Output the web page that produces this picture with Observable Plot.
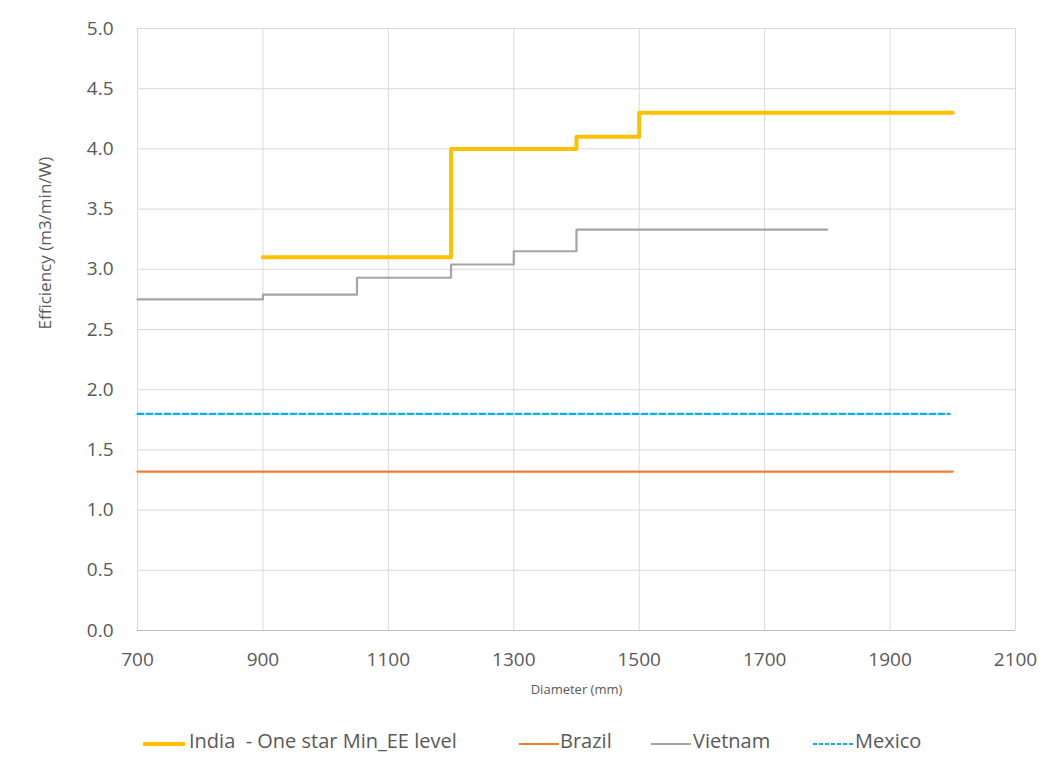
<!DOCTYPE html>
<html>
<head>
<meta charset="utf-8">
<script src="https://cdn.jsdelivr.net/npm/d3@7"></script>
<script src="https://cdn.jsdelivr.net/npm/@observablehq/plot@0.6"></script>
<style>
  html, body { margin: 0; padding: 0; background: #fff; }
  #chart { width: 1046px; position: relative; font-family: "Open Sans", "Liberation Sans", sans-serif; }
  #legend { position: relative; height: 62px; color: #595959; font-size: 20px; }
  #legend .sw { position: absolute; top: 35px; }
  #legend .lbl { position: absolute; top: 24px; line-height: 24px; white-space: pre; }
</style>
</head>
<body>
<div id="chart"></div>
<script>
// Data
const indiaDiameter = [900, 1200, 1400, 1500, 2000];
const indiaEff = [3.1, 4.0, 4.1, 4.3, 4.3];
const vietnamDiameter = [700, 900, 1050, 1200, 1300, 1400, 1800];
const vietnamEff = [2.75, 2.79, 2.93, 3.04, 3.15, 3.33, 3.33];
const brazilDiameter = [700, 2000];
const brazilEff = [1.32, 1.32];
const mexicoDiameter = [700, 1995];
const mexicoEff = [1.8, 1.8];
const xTicks = [700, 900, 1100, 1300, 1500, 1700, 1900, 2100];
const yTicks = [0, 0.5, 1, 1.5, 2, 2.5, 3, 3.5, 4, 4.5, 5];

const seriesNames = ["India  - One star Min_EE level", "Brazil", "Vietnam", "Mexico"];
const colors = ["#FFC000", "#ED7D31", "#A5A5A5", "#00B0F0"];
const widths = [4, 2.2, 2.2, 2.2];
const dashes = [null, null, null, "6,3"];

const toRows = (xs, ys) => xs.map((x, i) => ({x, y: ys[i]}));
const india = toRows(indiaDiameter, indiaEff);
const vietnam = toRows(vietnamDiameter, vietnamEff);
const brazil = toRows(brazilDiameter, brazilEff);
const mexico = toRows(mexicoDiameter, mexicoEff);

const plot = Plot.plot({
  width: 1046,
  height: 705,
  marginLeft: 137,
  marginRight: 31,
  marginTop: 28,
  marginBottom: 75,
  style: { fontFamily: "'Open Sans', 'Liberation Sans', sans-serif", background: "#fff" },
  x: { domain: [700, 2100] },
  y: { domain: [0, 5] },
  marks: [
    Plot.gridX(xTicks, { stroke: "#d9d9d9", strokeOpacity: 1, strokeWidth: 1 }),
    Plot.gridY(yTicks, { stroke: "#d9d9d9", strokeOpacity: 1, strokeWidth: 1 }),
    Plot.ruleY([0], { stroke: "#bfbfbf", strokeWidth: 1.2 }),
    Plot.axisX(xTicks, { tickSize: 0, tickPadding: 22, fontSize: 19, fill: "#595959", label: null, tickFormat: d => String(d) }),
    Plot.axisY(yTicks, { tickSize: 0, tickPadding: 24, fontSize: 19, fill: "#595959", label: null, tickFormat: d => d.toFixed(1) }),
    Plot.text(["Diameter (mm)"], { frameAnchor: "bottom", dy: 63, fontSize: 13, fill: "#595959" }),
    Plot.text(["Efficiency (m3/min/W)"], { frameAnchor: "left", dx: -92, rotate: -90, fontSize: 17, fill: "#595959" }),
    Plot.line(brazil, { x: "x", y: "y", stroke: colors[1], strokeWidth: widths[1] }),
    Plot.line(mexico, { x: "x", y: "y", stroke: colors[3], strokeWidth: widths[3], strokeDasharray: dashes[3] }),
    Plot.line(vietnam, { x: "x", y: "y", curve: "step-after", stroke: colors[2], strokeWidth: widths[2] }),
    Plot.line(india, { x: "x", y: "y", curve: "step-after", stroke: colors[0], strokeWidth: widths[0], strokeLinecap: "round" })
  ]
});
const chart = document.getElementById("chart");
chart.appendChild(plot);

// Legend layout (swatch start, label start) in px
const swatchX = [143, 518, 650, 812];
const labelX = [189, 560, 693, 855];
const legend = document.createElement("div");
legend.id = "legend";
seriesNames.forEach((name, i) => {
  const dash = dashes[i] ? `stroke-dasharray="4,2"` : "";
  const sw = document.createElement("div");
  sw.className = "sw";
  sw.style.left = swatchX[i] + "px";
  sw.innerHTML = `<svg width="42" height="8" style="display:block"><line x1="1" y1="4" x2="41" y2="4" stroke="${colors[i]}" stroke-width="${widths[i]}" stroke-linecap="${i===0?'round':'butt'}" ${dash}/></svg>`;
  const lb = document.createElement("div");
  lb.className = "lbl";
  lb.style.left = labelX[i] + "px";
  lb.textContent = name;
  legend.appendChild(sw);
  legend.appendChild(lb);
});
chart.appendChild(legend);
</script>
</body>
</html>
